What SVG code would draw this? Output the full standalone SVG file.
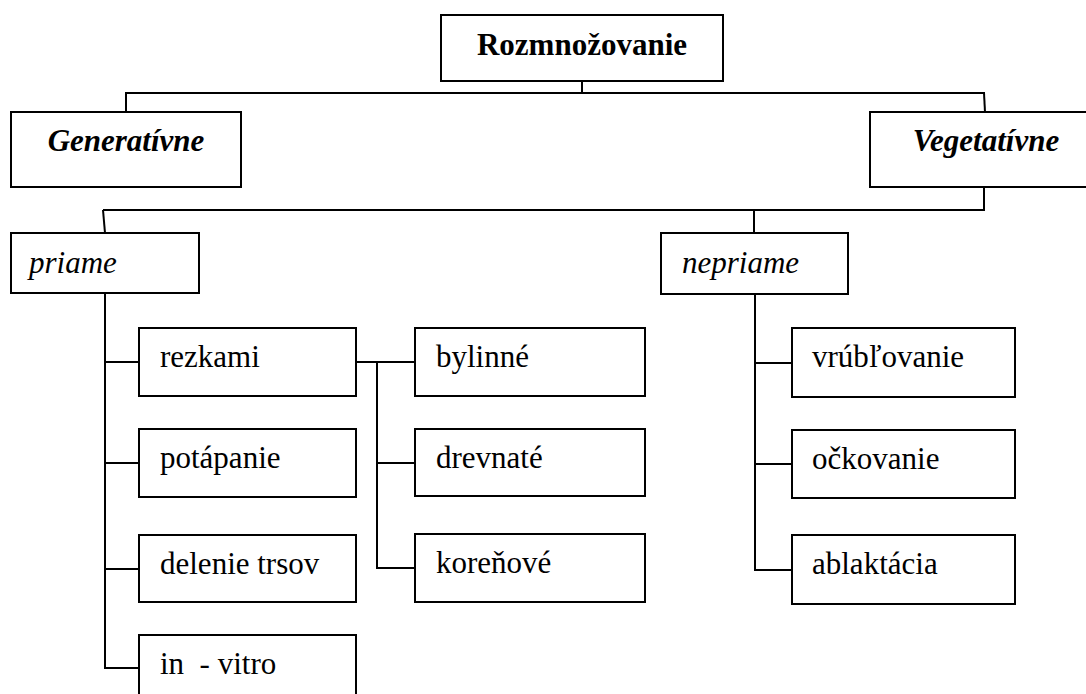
<svg xmlns="http://www.w3.org/2000/svg" width="1086" height="694" viewBox="0 0 1086 694">
<style>
rect{fill:#fff;stroke:#000;stroke-width:2}
.c line,.c path{stroke:#000;stroke-width:2;fill:none}
text{font-size:31px;fill:#000}
.b{font-weight:bold}
.i{font-style:italic}
</style>
<rect width="1086" height="694" style="fill:#fff;stroke:none"/>
<g class="c" id="connectors">
<line x1="582" y1="81" x2="582" y2="93"/>
<line x1="125" y1="93" x2="985" y2="93"/>
<line x1="126" y1="93" x2="126" y2="112"/>
<line x1="984" y1="93" x2="985" y2="112"/>
<line x1="984" y1="187" x2="984" y2="210"/>
<line x1="103" y1="210" x2="985" y2="210"/>
<line x1="103" y1="210" x2="105" y2="233"/>
<line x1="754" y1="210" x2="754" y2="233"/>
<path d="M105 293 V668 H139 M105 362 H139 M105 463 H139 M105 569 H139"/>
<path d="M356 362 H415 M377 362 V568 H415 M377 463 H415"/>
<path d="M755 294 V570 H792 M755 363 H792 M755 464 H792"/>
</g>
<g font-family="'Liberation Serif', 'Times New Roman', 'DejaVu Serif', serif">
<g id="root"><rect x="441" y="15" width="282" height="66"/><text class="b" x="582" y="55" text-anchor="middle">Rozmnožovanie</text></g>
<g id="generativne"><rect x="11" y="112" width="230" height="75"/><text class="b i" x="126" y="151" text-anchor="middle">Generatívne</text></g>
<g id="vegetativne"><rect x="870" y="112" width="230" height="75"/><text class="b i" x="986" y="151" text-anchor="middle">Vegetatívne</text></g>
<g id="priame"><rect x="11" y="233" width="188" height="60"/><text class="i" x="29" y="273">priame</text></g>
<g id="nepriame"><rect x="661" y="233" width="187" height="61"/><text class="i" x="682" y="273">nepriame</text></g>
<g id="rezkami"><rect x="139" y="328" width="217" height="68"/><text x="160" y="367">rezkami</text></g>
<g id="potapanie"><rect x="139" y="429" width="217" height="68"/><text x="160" y="468">potápanie</text></g>
<g id="delenie"><rect x="139" y="535" width="217" height="67"/><text x="160" y="574">delenie trsov</text></g>
<g id="invitro"><rect x="139" y="635" width="217" height="70"/><text x="160" y="674" xml:space="preserve">in  - vitro</text></g>
<g id="bylinne"><rect x="415" y="328" width="230" height="68"/><text x="436" y="367">bylinné</text></g>
<g id="drevnate"><rect x="415" y="429" width="230" height="67"/><text x="436" y="468">drevnaté</text></g>
<g id="korenove"><rect x="415" y="534" width="230" height="68"/><text x="436" y="573">koreňové</text></g>
<g id="vrublovanie"><rect x="792" y="328" width="223" height="69"/><text x="812" y="367">vrúbľovanie</text></g>
<g id="ockovanie"><rect x="792" y="430" width="223" height="68"/><text x="812" y="469">očkovanie</text></g>
<g id="ablaktacia"><rect x="792" y="535" width="223" height="69"/><text x="812" y="574">ablaktácia</text></g>
</g>
</svg>
